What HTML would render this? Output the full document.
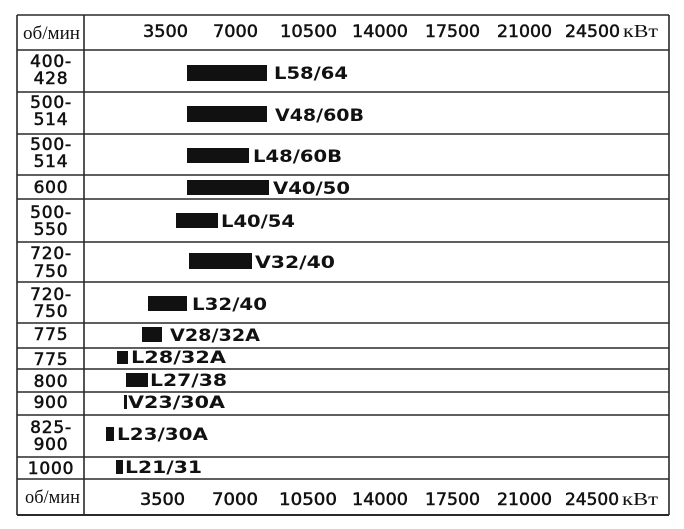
<!DOCTYPE html>
<html>
<head>
<meta charset="utf-8">
<style>
html,body{margin:0;padding:0;background:#fff;}
svg{display:block;}
.num{font-family:"DejaVu Sans","Liberation Sans",sans-serif;font-size:16.5px;fill:#111;stroke:#111;stroke-width:0.5;}
.rl{font-family:"DejaVu Sans","Liberation Sans",sans-serif;font-size:17px;fill:#111;stroke:#111;stroke-width:0.55;text-anchor:middle;letter-spacing:0.8px;}
.lb{font-family:"DejaVu Sans","Liberation Sans",sans-serif;font-size:17px;font-weight:bold;fill:#111;}
.sr{font-family:"Liberation Serif","DejaVu Serif",serif;font-size:19px;fill:#111;}
.kv{font-family:"Liberation Serif","DejaVu Serif",serif;font-size:18px;fill:#111;}
</style>
</head>
<body>
<svg width="684" height="529" viewBox="0 0 684 529" xmlns="http://www.w3.org/2000/svg">
<rect width="684" height="529" fill="#fff"/>
<g stroke="#2a2a2a" stroke-width="1.6" fill="none">
<line x1="17" y1="15" x2="669" y2="15"/>
<line x1="17" y1="50" x2="669" y2="50"/>
<line x1="17" y1="92" x2="669" y2="92"/>
<line x1="17" y1="134" x2="669" y2="134"/>
<line x1="17" y1="175" x2="669" y2="175"/>
<line x1="17" y1="199" x2="669" y2="199"/>
<line x1="17" y1="242" x2="669" y2="242"/>
<line x1="17" y1="282" x2="669" y2="282"/>
<line x1="17" y1="323" x2="669" y2="323"/>
<line x1="17" y1="348" x2="669" y2="348"/>
<line x1="17" y1="369" x2="669" y2="369"/>
<line x1="17" y1="392" x2="669" y2="392"/>
<line x1="17" y1="415" x2="669" y2="415"/>
<line x1="17" y1="457" x2="669" y2="457"/>
<line x1="17" y1="479" x2="669" y2="479"/>
<line x1="17" y1="515" x2="669" y2="515" stroke-width="2"/>
<line x1="17" y1="15" x2="17" y2="515"/>
<line x1="84" y1="15" x2="84" y2="515"/>
<line x1="669" y1="15" x2="669" y2="515"/>
</g>

<!-- header -->
<text class="sr" x="23" y="39" textLength="57" lengthAdjust="spacingAndGlyphs">об/мин</text>
<text class="num" x="143" y="37" textLength="45" lengthAdjust="spacingAndGlyphs">3500</text>
<text class="num" x="213" y="37" textLength="45" lengthAdjust="spacingAndGlyphs">7000</text>
<text class="num" x="280" y="37" textLength="57" lengthAdjust="spacingAndGlyphs">10500</text>
<text class="num" x="352" y="37" textLength="56" lengthAdjust="spacingAndGlyphs">14000</text>
<text class="num" x="425" y="37" textLength="55" lengthAdjust="spacingAndGlyphs">17500</text>
<text class="num" x="497" y="37" textLength="55" lengthAdjust="spacingAndGlyphs">21000</text>
<text class="num" x="565" y="37" textLength="55" lengthAdjust="spacingAndGlyphs">24500</text>
<text class="kv" x="623" y="37" textLength="35" lengthAdjust="spacingAndGlyphs">кВт</text>

<!-- footer -->
<text class="sr" x="25" y="503" textLength="55" lengthAdjust="spacingAndGlyphs">об/мин</text>
<text class="num" x="140" y="505" textLength="45" lengthAdjust="spacingAndGlyphs">3500</text>
<text class="num" x="212" y="505" textLength="46" lengthAdjust="spacingAndGlyphs">7000</text>
<text class="num" x="279" y="505" textLength="58" lengthAdjust="spacingAndGlyphs">10500</text>
<text class="num" x="352" y="505" textLength="56" lengthAdjust="spacingAndGlyphs">14000</text>
<text class="num" x="425" y="505" textLength="55" lengthAdjust="spacingAndGlyphs">17500</text>
<text class="num" x="497" y="505" textLength="55" lengthAdjust="spacingAndGlyphs">21000</text>
<text class="num" x="565" y="505" textLength="54" lengthAdjust="spacingAndGlyphs">24500</text>
<text class="kv" x="622" y="505" textLength="36" lengthAdjust="spacingAndGlyphs">кВт</text>

<!-- row labels -->
<text class="rl" x="51" y="67">400-</text>
<text class="rl" x="51" y="84">428</text>
<text class="rl" x="51" y="108">500-</text>
<text class="rl" x="51" y="125">514</text>
<text class="rl" x="51" y="150">500-</text>
<text class="rl" x="51" y="167">514</text>
<text class="rl" x="51" y="193">600</text>
<text class="rl" x="51" y="218">500-</text>
<text class="rl" x="51" y="235">550</text>
<text class="rl" x="51" y="259">720-</text>
<text class="rl" x="51" y="277">750</text>
<text class="rl" x="51" y="300">720-</text>
<text class="rl" x="51" y="317">750</text>
<text class="rl" x="51" y="340">775</text>
<text class="rl" x="51" y="365">775</text>
<text class="rl" x="51" y="387">800</text>
<text class="rl" x="51" y="408">900</text>
<text class="rl" x="51" y="433">825-</text>
<text class="rl" x="51" y="450">900</text>
<text class="rl" x="51" y="474">1000</text>

<!-- bars -->
<g fill="#111">
<rect x="187" y="65" width="80" height="16"/>
<rect x="187" y="106" width="80" height="16"/>
<rect x="187" y="148" width="62" height="15"/>
<rect x="187" y="180" width="82" height="15"/>
<rect x="176" y="213" width="42" height="15"/>
<rect x="189" y="253" width="63" height="16"/>
<rect x="148" y="296" width="39" height="15"/>
<rect x="142" y="327" width="20" height="15"/>
<rect x="117" y="351" width="11" height="13"/>
<rect x="126" y="373" width="22" height="14"/>
<rect x="124" y="395" width="3" height="14"/>
<rect x="106" y="427" width="8" height="14"/>
<rect x="116" y="460" width="7" height="14"/>
</g>

<!-- bar labels -->
<text class="lb" x="274" y="79" textLength="74" lengthAdjust="spacingAndGlyphs">L58/64</text>
<text class="lb" x="275" y="121" textLength="89" lengthAdjust="spacingAndGlyphs">V48/60B</text>
<text class="lb" x="253" y="162" textLength="89" lengthAdjust="spacingAndGlyphs">L48/60B</text>
<text class="lb" x="273" y="194" textLength="77" lengthAdjust="spacingAndGlyphs">V40/50</text>
<text class="lb" x="221" y="227" textLength="74" lengthAdjust="spacingAndGlyphs">L40/54</text>
<text class="lb" x="255" y="268" textLength="80" lengthAdjust="spacingAndGlyphs">V32/40</text>
<text class="lb" x="192" y="310" textLength="75" lengthAdjust="spacingAndGlyphs">L32/40</text>
<text class="lb" x="170" y="341" textLength="90" lengthAdjust="spacingAndGlyphs">V28/32A</text>
<text class="lb" x="131" y="363" textLength="95" lengthAdjust="spacingAndGlyphs">L28/32A</text>
<text class="lb" x="150" y="386" textLength="77" lengthAdjust="spacingAndGlyphs">L27/38</text>
<text class="lb" x="128" y="408" textLength="97" lengthAdjust="spacingAndGlyphs">V23/30A</text>
<text class="lb" x="117" y="440" textLength="91" lengthAdjust="spacingAndGlyphs">L23/30A</text>
<text class="lb" x="125" y="473" textLength="77" lengthAdjust="spacingAndGlyphs">L21/31</text>
</svg>
</body>
</html>
